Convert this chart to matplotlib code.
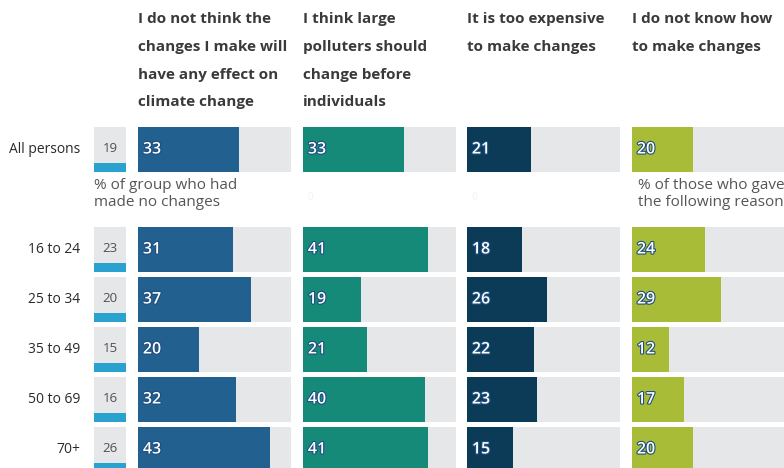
import matplotlib.pyplot as plt
import matplotlib.patheffects as pe

plt.rcParams['font.family'] = ['Open Sans', 'DejaVu Sans']

groups = ['All persons', '16 to 24', '25 to 34', '35 to 49', '50 to 69', '70+']
no_changes = [19, 23, 20, 15, 16, 26]

reasons = [
    'I do not think the\nchanges I make will\nhave any effect on\nclimate change',
    'I think large\npolluters should\nchange before\nindividuals',
    'It is too expensive\nto make changes',
    'I do not know how\nto make changes',
]
no_effect = [33, 31, 37, 20, 32, 43]
big_polluters = [33, 41, 19, 21, 40, 41]
too_expensive = [21, 18, 26, 22, 23, 15]
dont_know = [20, 24, 29, 12, 17, 20]

colors = ['#22608f', '#158a78', '#0b3b56', '#a8bc38']
grey = '#e6e7e8'
cyan = '#29a2d0'

W, H = 784, 468
fig = plt.figure(figsize=(W / 100, H / 100), dpi=100)

# row slots: "All persons" on top, a gap for notes, then the age bands
slots = [0, 2, 3, 4, 5, 6]
row_h = 0.9
ylim = ((H - 149.5) / 50, -149.5 / 50)

# text layer in pixel coordinates
bg = fig.add_axes([0, 0, 1, 1])
bg.set_xlim(0, W)
bg.set_ylim(H, 0)
bg.axis('off')

outline = [pe.withStroke(linewidth=1.6, foreground='#1f4f80')]

# small column: share who made no changes
sx = fig.add_axes([94 / W, 0, 32 / W, 1])
sx.set_xlim(0, 1)
sx.set_ylim(*ylim)
sx.axis('off')
sx.barh(slots, [1] * len(slots), height=row_h, color=grey)
sx.barh([s + row_h / 2 - 0.09 for s in slots], [1] * len(slots),
        height=0.18, color=cyan)
for s, v in zip(slots, no_changes):
    sx.text(0.5, s - 0.03, str(v), ha='center', va='center',
            fontsize=9.5, color='#505050')

panel_left = [138, 303, 467, 632]
series = [no_effect, big_polluters, too_expensive, dont_know]
for left, vals, col, title in zip(panel_left, series, colors, reasons):
    ax = fig.add_axes([left / W, 0, 153 / W, 1])
    ax.set_xlim(0, 50)
    ax.set_ylim(*ylim)
    ax.axis('off')
    ax.barh(slots, [50] * len(slots), height=row_h, color=grey)
    ax.barh(slots, vals, height=row_h, color=col)
    for s, v in zip(slots, vals):
        ax.text(1.6, s, str(v), ha='left', va='center', fontsize=11.5,
                fontweight='semibold', color='white', path_effects=outline)
    bg.text(left, 12, title, ha='left', va='top', fontsize=11,
            fontweight='bold', color='#3a3a3a', linespacing=2.25)

for s, g in zip(slots, groups):
    bg.text(80, 149.5 + 50 * s, g, ha='right', va='center',
            fontsize=10, color='#2a2a2a')

notes = [(94, ['% of group who had', 'made no changes']),
         (638, ['% of those who gave', 'the following reasons'])]
for x, lines in notes:
    for k, line in enumerate(lines):
        bg.text(x, 189 + 16.5 * k, line, ha='left', va='baseline',
                fontsize=11, color='#555555')
for x in (310, 474):
    bg.text(x, 197, '0', ha='center', va='center', fontsize=7, color='#f2f2f2')

fig.savefig('out.png', dpi=100)
